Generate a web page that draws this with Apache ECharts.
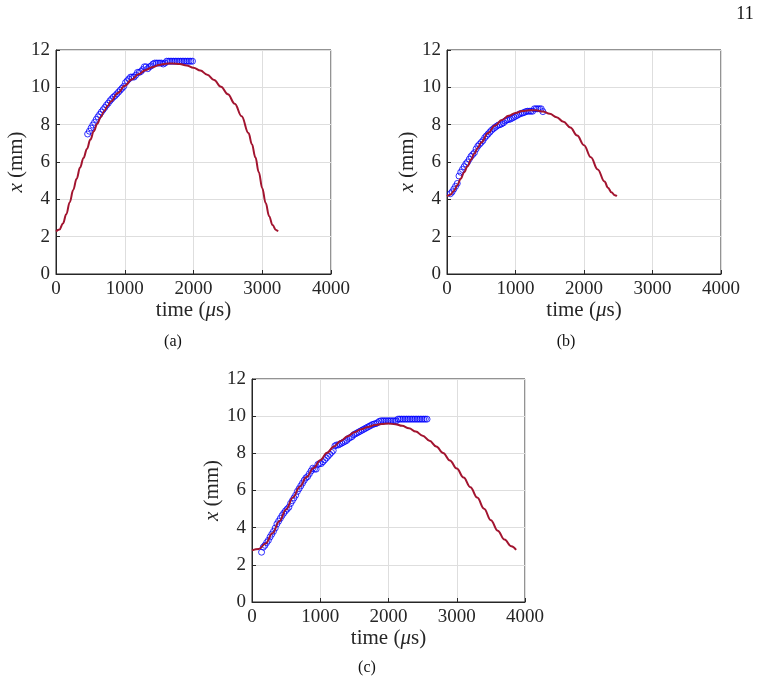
<!DOCTYPE html>
<html>
<head>
<meta charset="utf-8">
<script src="https://cdn.jsdelivr.net/npm/echarts@6/dist/echarts.min.js"></script>
<style>
  html, body { margin: 0; padding: 0; background: #fff; }
  #chart { width: 760px; height: 684px; }
</style>
</head>
<body>
<div id="chart"></div>
<script>
// model curves [time us, x mm]
const curveA = [[0,2.28],[50,2.38],[100,2.7],[150,3.2],[200,3.85],[250,4.5],[300,5.1],[350,5.7],[400,6.22],[450,6.7],[500,7.2],[550,7.65],[600,8.05],[650,8.4],[700,8.72],[750,9.0],[800,9.25],[900,9.7],[1000,10.08],[1100,10.42],[1200,10.7],[1300,10.92],[1400,11.08],[1500,11.2],[1600,11.27],[1700,11.28],[1800,11.25],[1900,11.17],[2000,11.05],[2100,10.9],[2200,10.68],[2300,10.39],[2400,10.03],[2500,9.63],[2600,9.12],[2700,8.45],[2800,7.55],[2850,6.95],[2900,6.25],[2950,5.45],[3000,4.6],[3050,3.8],[3100,3.1],[3150,2.62],[3200,2.36],[3230,2.28]];
const curveB = [[0,4.17],[50,4.25],[100,4.45],[150,4.75],[200,5.1],[250,5.45],[300,5.78],[350,6.12],[400,6.45],[450,6.76],[500,7.05],[600,7.55],[700,7.95],[800,8.25],[900,8.48],[1000,8.63],[1100,8.73],[1200,8.77],[1300,8.77],[1400,8.7],[1500,8.58],[1600,8.4],[1700,8.15],[1800,7.85],[1900,7.42],[2000,6.9],[2100,6.25],[2200,5.6],[2300,4.95],[2350,4.62],[2400,4.38],[2450,4.22],[2480,4.17]];
const curveC = [[0,2.78],[100,2.85],[200,3.15],[300,3.7],[400,4.35],[500,4.98],[600,5.63],[700,6.2],[800,6.72],[900,7.2],[1000,7.63],[1100,8.03],[1200,8.37],[1300,8.66],[1400,8.92],[1500,9.13],[1600,9.3],[1700,9.42],[1800,9.52],[1900,9.58],[2000,9.6],[2100,9.57],[2200,9.48],[2300,9.35],[2400,9.17],[2500,8.95],[2600,8.68],[2700,8.37],[2800,8.02],[2900,7.62],[3000,7.18],[3100,6.7],[3200,6.18],[3300,5.62],[3400,5.02],[3500,4.4],[3600,3.84],[3700,3.36],[3800,3.0],[3870,2.81]];

// measured points [time us, x mm]
const dotsA = [[460,7.5],[485,7.65],[510,7.82],[535,7.98],[560,8.12],[585,8.28],[610,8.42],[635,8.55],[660,8.68],[685,8.8],[710,8.92],[735,9.05],[760,9.15],[785,9.28],[810,9.38],[835,9.48],[860,9.55],[885,9.65],[910,9.75],[935,9.85],[960,9.95],[985,10.05],[1010,10.25],[1035,10.35],[1060,10.45],[1085,10.55],[1110,10.55],[1135,10.55],[1160,10.65],[1185,10.8],[1210,10.8],[1235,10.85],[1260,10.95],[1285,11.1],[1310,11.1],[1335,11.0],[1360,11.1],[1385,11.15],[1410,11.25],[1435,11.3],[1460,11.3],[1485,11.3],[1510,11.3],[1535,11.3],[1560,11.25],[1585,11.3],[1610,11.4],[1635,11.4],[1660,11.4],[1685,11.4],[1710,11.4],[1735,11.4],[1760,11.4],[1785,11.4],[1810,11.4],[1835,11.4],[1860,11.4],[1885,11.4],[1910,11.4],[1935,11.4],[1960,11.4],[1985,11.4]];
const dotsB = [[50,4.3],[75,4.4],[100,4.55],[125,4.7],[150,4.85],[175,5.25],[200,5.45],[225,5.6],[250,5.75],[275,5.9],[300,6.0],[325,6.15],[350,6.3],[375,6.4],[400,6.5],[425,6.7],[450,6.85],[475,6.95],[500,7.05],[525,7.15],[550,7.3],[575,7.4],[600,7.5],[625,7.6],[650,7.7],[675,7.78],[700,7.85],[725,7.92],[750,7.98],[775,8.0],[800,8.05],[825,8.1],[850,8.2],[875,8.25],[900,8.28],[925,8.3],[950,8.35],[975,8.4],[1000,8.45],[1025,8.5],[1050,8.55],[1075,8.6],[1100,8.62],[1125,8.65],[1150,8.7],[1175,8.72],[1200,8.72],[1225,8.72],[1250,8.72],[1275,8.85],[1300,8.85],[1325,8.85],[1350,8.85],[1375,8.85],[1400,8.7]];
const dotsC = [[140,2.68],[165,2.95],[190,3.05],[215,3.2],[240,3.32],[265,3.5],[290,3.65],[315,3.8],[340,3.98],[365,4.2],[390,4.35],[415,4.5],[440,4.65],[465,4.78],[490,4.9],[515,5.0],[540,5.1],[565,5.3],[590,5.45],[615,5.6],[640,5.75],[665,5.95],[690,6.1],[715,6.25],[740,6.4],[765,6.55],[790,6.68],[815,6.75],[840,6.9],[865,7.05],[890,7.2],[915,7.15],[940,7.15],[965,7.4],[990,7.45],[1015,7.45],[1040,7.55],[1065,7.65],[1090,7.75],[1115,7.85],[1140,7.95],[1165,8.05],[1190,8.15],[1215,8.4],[1240,8.45],[1265,8.45],[1290,8.5],[1315,8.55],[1340,8.6],[1365,8.65],[1390,8.7],[1415,8.8],[1440,8.85],[1465,8.9],[1490,9.0],[1515,9.05],[1540,9.1],[1565,9.15],[1590,9.2],[1615,9.25],[1640,9.3],[1665,9.35],[1690,9.4],[1715,9.45],[1740,9.5],[1765,9.55],[1790,9.58],[1815,9.6],[1840,9.65],[1865,9.72],[1890,9.75],[1915,9.75],[1940,9.75],[1965,9.75],[1990,9.75],[2015,9.75],[2040,9.75],[2065,9.75],[2090,9.75],[2115,9.75],[2140,9.84],[2165,9.84],[2190,9.84],[2215,9.84],[2240,9.84],[2265,9.84],[2290,9.84],[2315,9.84],[2340,9.84],[2365,9.84],[2390,9.84],[2415,9.84],[2440,9.84],[2465,9.84],[2490,9.84],[2515,9.84],[2540,9.84],[2565,9.84]];

const captions = ['(a)', '(b)', '(c)'];
const pageNo = '11';

const FONT = '"Liberation Serif", "Times New Roman", serif';
const INK = '#262626';
const RED = '#A2142F';
const BLUE = '#0000FF';

const grids = [
    { left: 56, top: 50, width: 275, height: 224 },
    { left: 447, top: 50, width: 274, height: 224 },
    { left: 252, top: 379, width: 273, height: 223 },
];

const chart = echarts.init(document.getElementById('chart'), null, { renderer: 'canvas' });

const axisCommon = {
    axisLine: { show: true, lineStyle: { color: INK, width: 1 } },
    axisTick: { show: true, inside: true, length: 4, lineStyle: { color: INK } },
    splitLine: { show: true, lineStyle: { color: '#dedede', width: 1 } },
};
const labelStyle = { color: INK, fontFamily: FONT, fontSize: 19, margin: 6, formatter: v => String(v) };
const nameStyle = {
    color: INK, fontFamily: FONT, fontSize: 21,
    rich: { i: { fontStyle: 'italic', fontFamily: FONT, fontSize: 21, color: INK } },
};

const xAxes = grids.map((g, i) => Object.assign({}, axisCommon, {
    gridIndex: i, type: 'value', min: 0, max: 4000, interval: 1000,
    axisLabel: labelStyle,
    name: 'time ({i|μ}s)', nameLocation: 'middle', nameGap: 22,
    nameTextStyle: nameStyle,
}));

const yAxes = grids.map((g, i) => Object.assign({}, axisCommon, {
    gridIndex: i, type: 'value', min: 0, max: 12, interval: 2,
    axisLabel: labelStyle,
    name: '{i|x} (mm)', nameLocation: 'middle', nameGap: 29, nameRotate: 90,
    nameTextStyle: nameStyle,
}));

const dotSets = [dotsA, dotsB, dotsC];
const curveSets = [curveA, curveB, curveC];
const series = [];
dotSets.forEach((d, i) => {
    series.push({
        type: 'scatter', xAxisIndex: i, yAxisIndex: i, data: d, z: 2,
        symbol: 'circle', symbolSize: 6,
        itemStyle: { color: 'rgba(0,0,0,0)', borderColor: BLUE, borderWidth: 1 },
        silent: true, animation: false,
    });
});
curveSets.forEach((d, i) => {
    series.push({
        type: 'line', xAxisIndex: i, yAxisIndex: i, data: d, z: 3,
        smooth: 0.4, smoothMonotone: 'x', showSymbol: false,
        lineStyle: { color: RED, width: 2 },
        silent: true, animation: false,
    });
});

const capPos = [[173, 342], [566, 342], [367, 668]];
const graphic = captions.map((c, i) => ({
    type: 'text', x: capPos[i][0], y: capPos[i][1],
    style: { text: c, fill: '#111', font: '16px ' + FONT, align: 'center', verticalAlign: 'middle' },
}));
graphic.push({
    type: 'text', x: 745, y: 14,
    style: { text: pageNo, fill: '#111', font: '18px ' + FONT, align: 'center', verticalAlign: 'middle' },
});

chart.setOption({
    backgroundColor: '#fff',
    animation: false,
    grid: grids.map(g => Object.assign({ show: true, borderColor: INK, borderWidth: 1, backgroundColor: 'transparent' }, g)),
    xAxis: xAxes,
    yAxis: yAxes,
    series: series,
    graphic: graphic,
});
</script>
</body>
</html>
